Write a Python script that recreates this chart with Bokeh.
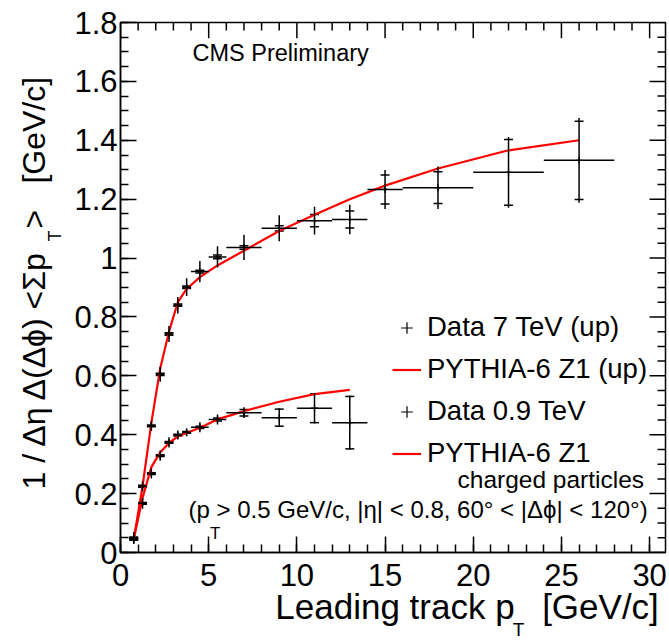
import numpy as np
from bokeh.plotting import figure
from bokeh.models import (Range1d, LinearAxis, SingleIntervalTicker, FixedTicker,
                          PrintfTickFormatter, CustomJSTickFormatter, Whisker, TeeHead,
                          ColumnDataSource, Legend, LegendItem, Label)
from bokeh.embed import file_html
from bokeh.resources import INLINE

# ---------------- data ----------------
# Data 7 TeV (up)
x_up = [0.75, 1.25, 1.75, 2.25, 2.75, 3.25, 3.75, 4.5, 5.5, 7, 9, 11, 13, 15, 18, 22, 26]
xerr_up = [0.25, 0.25, 0.25, 0.25, 0.25, 0.25, 0.25, 0.5, 0.5, 1, 1, 1, 1, 1, 2, 2, 2]
y_up = [0.050, 0.225, 0.430, 0.605, 0.742, 0.840, 0.901, 0.954, 1.004, 1.036, 1.101,
        1.127, 1.131, 1.233, 1.239, 1.291, 1.332]
tot_up = [0.020, 0.017, 0.017, 0.025, 0.027, 0.028, 0.030, 0.036, 0.036, 0.043, 0.044,
          0.047, 0.050, 0.066, 0.072, 0.120, 0.144]
stat_up = [0.003, 0.003, 0.003, 0.004, 0.004, 0.004, 0.004, 0.005, 0.006, 0.006, 0.009,
           0.021, 0.029, 0.049, 0.054, 0.112, 0.133]

# Data 0.9 TeV
x_low = [0.75, 1.25, 1.75, 2.25, 2.75, 3.25, 3.75, 4.5, 5.5, 7, 9, 11, 13]
xerr_low = [0.25, 0.25, 0.25, 0.25, 0.25, 0.25, 0.25, 0.5, 0.5, 1, 1, 1, 1]
y_low = [0.045, 0.167, 0.268, 0.329, 0.374, 0.399, 0.408, 0.425, 0.452, 0.475, 0.458,
         0.490, 0.441]
tot_low = [0.015, 0.018, 0.017, 0.017, 0.017, 0.015, 0.013, 0.017, 0.017, 0.018, 0.032,
           0.052, 0.092]
stat_low = [0.003, 0.003, 0.003, 0.003, 0.003, 0.003, 0.003, 0.004, 0.005, 0.011, 0.029,
            0.049, 0.089]

# PYTHIA-6 Z1 curves
xc_up = [0.75, 1.25, 1.75, 2.25, 2.75, 3.25, 3.75, 4.5, 5.5, 7, 9, 11, 13, 15, 18, 22, 26]
yc_up = [0.045, 0.225, 0.440, 0.625, 0.750, 0.850, 0.895, 0.935, 0.975, 1.025, 1.092,
         1.147, 1.200, 1.246, 1.304, 1.366, 1.400]
xc_low = [0.75, 1.25, 1.75, 2.25, 2.75, 3.25, 3.75, 4.5, 5.5, 7, 9, 11, 13]
yc_low = [0.045, 0.185, 0.290, 0.340, 0.372, 0.394, 0.406, 0.424, 0.452, 0.480, 0.512,
          0.538, 0.552]

legend_labels = ["Data 7 TeV (up)", "PYTHIA-6 Z1 (up)", "Data 0.9 TeV", "PYTHIA-6 Z1"]
x_title = ["Leading track p", "[GeV/c]"]
y_title = ["1 / \u0394\u03b7 \u0394(\u0394\u03d5) <\u03a3p", ">", "[GeV/c]"]
sub_T = ["T"]
x_major = [0, 5, 10, 15, 20, 25, 30]
y_major = [0, 0.2, 0.4, 0.6, 0.8, 1.0, 1.2, 1.4, 1.6, 1.8]

# ---------------- layout ----------------
FONT = "Liberation Sans"
W, H = 669, 642
ML, MR, MT, MB = 120, 4, 22, 84
XMAX, YMAX = 30.9, 1.8
FW, FH = W - ML - MR, H - MT - MB


def dx(px):
    """page pixel -> data x"""
    return (px - ML) / FW * XMAX


def dy(py):
    """page pixel -> data y"""
    return (MT + FH - py) / FH * YMAX


p = figure(width=W, height=H, x_range=Range1d(0, XMAX), y_range=Range1d(0, YMAX),
           output_backend="svg", toolbar_location=None,
           min_border_left=ML, min_border_right=MR, min_border_top=MT, min_border_bottom=MB)
p.grid.visible = False
p.outline_line_color = "black"
p.outline_line_width = 1.5
p.background_fill_color = "white"
p.border_fill_color = "white"


def style_axis(ax, interval, nminor, standoff):
    ax.ticker = SingleIntervalTicker(interval=interval, num_minor_ticks=nminor)
    ax.axis_line_color = "black"
    ax.axis_line_width = 1.5
    ax.major_tick_in = 16
    ax.major_tick_out = 0
    ax.minor_tick_in = 8
    ax.minor_tick_out = 0
    ax.major_tick_line_color = "black"
    ax.major_tick_line_width = 1.5
    ax.minor_tick_line_color = "black"
    ax.minor_tick_line_width = 1.5
    ax.formatter = PrintfTickFormatter(format="%.3g")
    ax.major_label_text_font = FONT
    ax.major_label_text_font_size = "31px"
    ax.major_label_text_color = "black"
    ax.major_label_standoff = standoff


style_axis(p.xaxis[0], 5, 5, 11)
style_axis(p.yaxis[0], 0.2, 4, 3)


def title_axis(ticks, names, size, standoff, vertical=False):
    ax = LinearAxis(ticker=FixedTicker(ticks=ticks, minor_ticks=[]),
                    formatter=CustomJSTickFormatter(args=dict(names=names),
                                                    code="return names[index]"))
    ax.axis_line_color = None
    ax.major_tick_line_color = None
    ax.minor_tick_line_color = None
    ax.major_tick_in = 0
    ax.major_tick_out = 0
    ax.minor_tick_in = 0
    ax.minor_tick_out = 0
    ax.major_label_text_font = FONT
    ax.major_label_text_font_size = size
    ax.major_label_text_color = "black"
    ax.major_label_standoff = standoff
    if vertical:
        ax.major_label_orientation = "vertical"
    return ax


# x title: main pieces, then the subscript further out
p.add_layout(title_axis([dx(394.5), dx(600)], x_title, "35px", -2), "below")
p.add_layout(title_axis([dx(518)], sub_T, "19px", -10), "below")
# y title: subscript closer to the frame, then the main pieces
p.add_layout(title_axis([dy(238)], sub_T, "18px", 6, True), "left")
p.add_layout(title_axis([dy(373), dy(221), dy(131)], y_title, "32px", -10, True), "left")

# mirrored ticks on top and right edges
tick_major_px, tick_minor_px = 16, 8
x_minor = [v for v in np.arange(0, XMAX, 1.0) if v % 5 != 0]
y_minor = [v for v in np.arange(0, YMAX + 1e-9, 0.05) if abs(v / 0.2 - round(v / 0.2)) > 1e-6]
for xs, L in ((x_major, tick_major_px), (x_minor, tick_minor_px)):
    xs = np.array(xs, dtype=float)
    p.segment(x0=xs, y0=np.full(len(xs), YMAX), x1=xs,
              y1=np.full(len(xs), YMAX - L / FH * YMAX), line_color="black", line_width=1.5)
for ys, L in ((y_major, tick_major_px), (y_minor, tick_minor_px)):
    ys = np.array(ys, dtype=float)
    p.segment(x0=np.full(len(ys), XMAX), y0=ys, x1=np.full(len(ys), XMAX - L / FW * XMAX),
              y1=ys, line_color="black", line_width=1.5)

# ---------------- curves ----------------
l_up = p.line(xc_up, yc_up, line_color="#ff0000", line_width=2.2)
l_low = p.line(xc_low, yc_low, line_color="#ff0000", line_width=2.2)


# ---------------- data points ----------------
def draw_points(x, xerr, y, tot, stat):
    x = np.array(x); xerr = np.array(xerr); y = np.array(y)
    tot = np.array(tot); stat = np.array(stat)
    src = ColumnDataSource(dict(x=x, y=y, x0=x - xerr, x1=x + xerr,
                                yt0=y - tot, yt1=y + tot, ys0=y - stat, ys1=y + stat))
    p.segment(x0="x0", y0="y", x1="x1", y1="y", source=src, line_color="black", line_width=1.5)
    p.segment(x0="x", y0="yt0", x1="x", y1="yt1", source=src, line_color="black", line_width=1.5)
    w = Whisker(base="x", lower="ys0", upper="ys1", dimension="height", source=src,
                line_alpha=0,
                upper_head=TeeHead(size=9, line_color="black", line_width=1.5),
                lower_head=TeeHead(size=9, line_color="black", line_width=1.5))
    p.add_layout(w)
    return p.scatter(x="x", y="y", source=src, marker="cross", size=7,
                     line_color="black", line_width=1.2)


m_up = draw_points(x_up, xerr_up, y_up, tot_up, stat_up)
m_low = draw_points(x_low, xerr_low, y_low, tot_low, stat_low)

# ---------------- legend ----------------
legend = Legend(items=[LegendItem(label=legend_labels[0], renderers=[m_up]),
                       LegendItem(label=legend_labels[1], renderers=[l_up]),
                       LegendItem(label=legend_labels[2], renderers=[m_low]),
                       LegendItem(label=legend_labels[3], renderers=[l_low])],
                location=(272, 83), label_text_font=FONT, label_text_font_size="27.5px",
                label_text_color="black", glyph_width=29, glyph_height=31,
                label_height=31, label_standoff=6, spacing=10, padding=0, margin=0,
                border_line_alpha=0, background_fill_alpha=0)
p.add_layout(legend)


def add_text(px, py, text, size, align="left"):
    p.add_layout(Label(x=dx(px), y=dy(py), text=text, text_font=FONT,
                       text_font_size=size, text_color="black", text_align=align,
                       text_baseline="alphabetic"))


add_text(192, 53, "CMS Preliminary", "23.5px")
add_text(457, 484, "charged particles", "24.5px")
add_text(188, 515, "(p", "24px")
add_text(209.5, 539, "T", "17px")
add_text(216, 515, " > 0.5 GeV/c, |\u03b7| < 0.8, 60\u00b0 < |\u0394\u03d5| < 120\u00b0)", "24px")

open("out.html", "w").write(file_html(p, INLINE))
